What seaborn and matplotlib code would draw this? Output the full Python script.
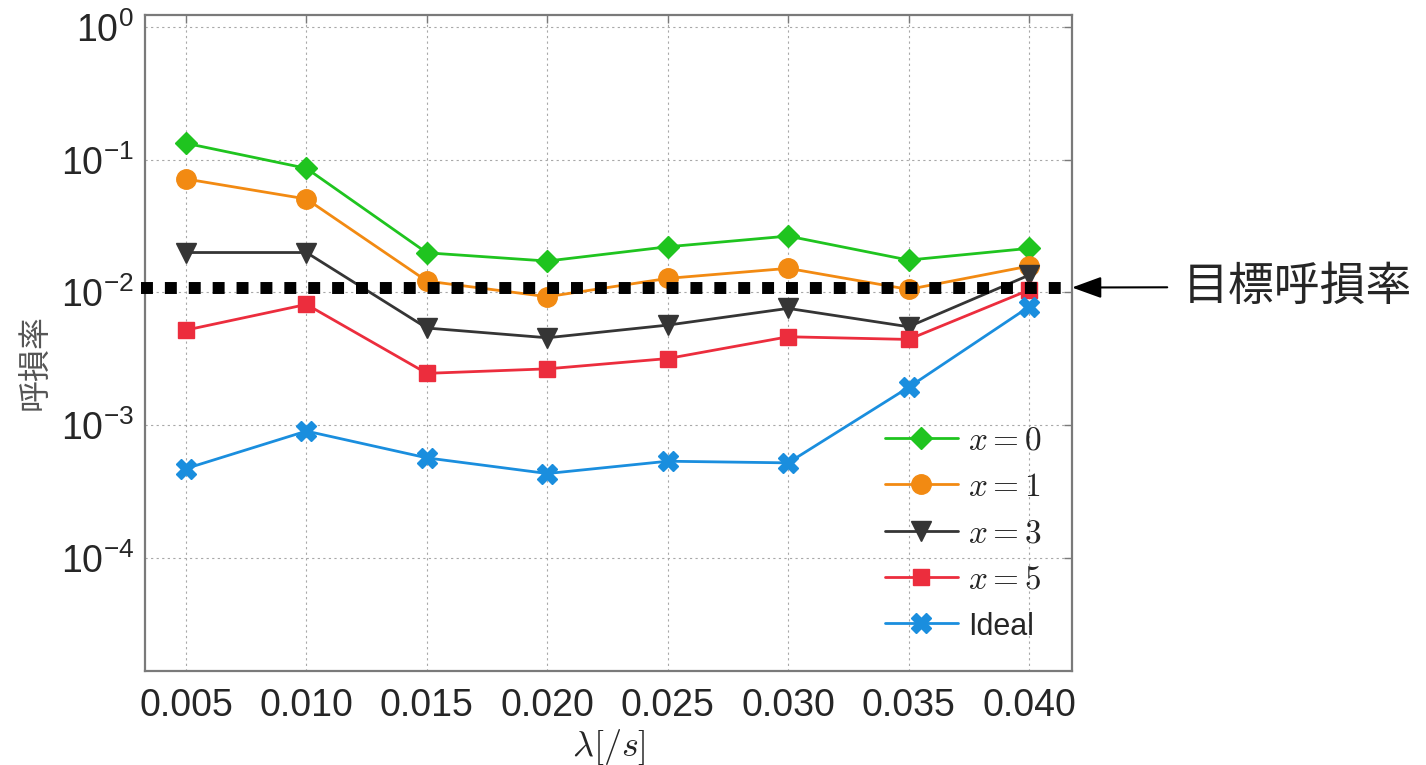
import numpy as np
import pandas as pd
import seaborn as sns
import matplotlib.pyplot as plt
from matplotlib.ticker import FixedLocator, FuncFormatter, NullLocator

# data
lam = [0.005, 0.010, 0.015, 0.020, 0.025, 0.030, 0.035, 0.040]
x0 = [0.133, 0.0861, 0.0199, 0.01725, 0.0221, 0.0266, 0.01754, 0.0215]
x1 = [0.0716, 0.0506, 0.01219, 0.00929, 0.01277, 0.0152, 0.01055, 0.0158]
x3 = [0.0200, 0.0200, 0.0054, 0.00456, 0.00568, 0.00759, 0.00552, 0.0135]
x5 = [0.00521, 0.00813, 0.00246, 0.00266, 0.00318, 0.00464, 0.00443, 0.01043]
ideal = [0.000472, 0.000904, 0.000568, 0.000433, 0.000536, 0.000521, 0.00193, 0.0078]
target = 0.0109

labels = ['$x=0$', '$x=1$', '$x=3$', '$x=5$', 'Ideal']
series = [x0, x1, x3, x5, ideal]
colors = ['#1fc41f', '#f28a12', '#353535', '#ec2d3d', '#1a8ede']
markers = ['D', 'o', 'v', 's', 'X']
sizes = [11, 14, 15, 12, 14]

sns.set_style('white')
plt.rcParams['font.family'] = ['Liberation Sans', 'Noto Sans CJK JP', 'DejaVu Sans']
plt.rcParams['mathtext.fontset'] = 'custom'
plt.rcParams['mathtext.rm'] = 'Liberation Sans'
plt.rcParams['mathtext.it'] = 'Liberation Sans:italic'

fig = plt.figure(figsize=(14.26, 7.65), dpi=100)
ax = fig.add_axes([145 / 1426, 1 - 671 / 765, 927 / 1426, 656 / 765])

for ys, lab, c, m, s in zip(series, labels, colors, markers, sizes):
    sns.lineplot(x=lam, y=ys, ax=ax, color=c, marker=m, markersize=s,
                 markeredgecolor=c, markeredgewidth=1, linewidth=2,
                 label=lab, zorder=3)

ax.set_yscale('log')
ax.set_xlim(0.003297, 0.041786)
ax.set_ylim(1.41e-5, 1.23)

ax.xaxis.set_major_locator(FixedLocator(lam))
ax.xaxis.set_major_formatter(FuncFormatter(lambda v, p: '%.3f' % v))
ax.yaxis.set_major_locator(FixedLocator([1e-4, 1e-3, 1e-2, 1e-1, 1e0]))
ax.yaxis.set_major_formatter(FuncFormatter(lambda v, p: r'$\mathrm{10^{%d}}$' % round(np.log10(v))))
ax.yaxis.set_minor_locator(NullLocator())

ax.grid(True, which='major', linestyle=(0, (2, 3)), color='#a8a8a8', linewidth=0.8)
for sp in ax.spines.values():
    sp.set_color('#7a7a7a')
    sp.set_linewidth(1.6)
ax.tick_params(direction='in', top=True, right=True, length=6, width=1,
               color='#7a7a7a', labelsize=27)
ax.tick_params(axis='x', pad=12)
ax.tick_params(axis='y', pad=8)

# target line
ax.axhline(target, xmin=-0.004, xmax=1.0, color='black', lw=8.6,
           linestyle=(0, (1, 1)), dash_capstyle='butt', zorder=5, clip_on=False)

ax.set_ylabel('呼損率', fontsize=23, color='#555555', family='Noto Sans CJK JP')
ax.yaxis.set_label_coords((52 - 145) / 927, (671 - 362) / 656)
ax.set_xlabel(r'$\lambda[/s]$', fontsize=26, math_fontfamily='cm')
ax.xaxis.set_label_coords(0.5, (671 - 727) / 656)

leg = ax.legend(loc='upper left', bbox_to_anchor=(0.798, 0.3744), frameon=False,
                fontsize=24, handlelength=2.2, handletextpad=0.3, labelspacing=0.465,
                borderpad=0, borderaxespad=0)
for t in leg.get_texts():
    if t.get_text().startswith('$'):
        t.set_math_fontfamily('cm')
    else:
        t.set_fontsize(22)

ax.annotate('目標呼損率', xy=(1.0, target), xycoords=('axes fraction', 'data'),
            xytext=(1183, 765 - 287), textcoords='figure pixels',
            ha='left', va='center', fontsize=33, family='Noto Sans CJK JP',
            arrowprops=dict(arrowstyle='-|>,head_length=0.55,head_width=0.2',
                            color='black', lw=1.5, shrinkA=9, shrinkB=0),
            annotation_clip=False)

fig.savefig('out.png', dpi=100)
